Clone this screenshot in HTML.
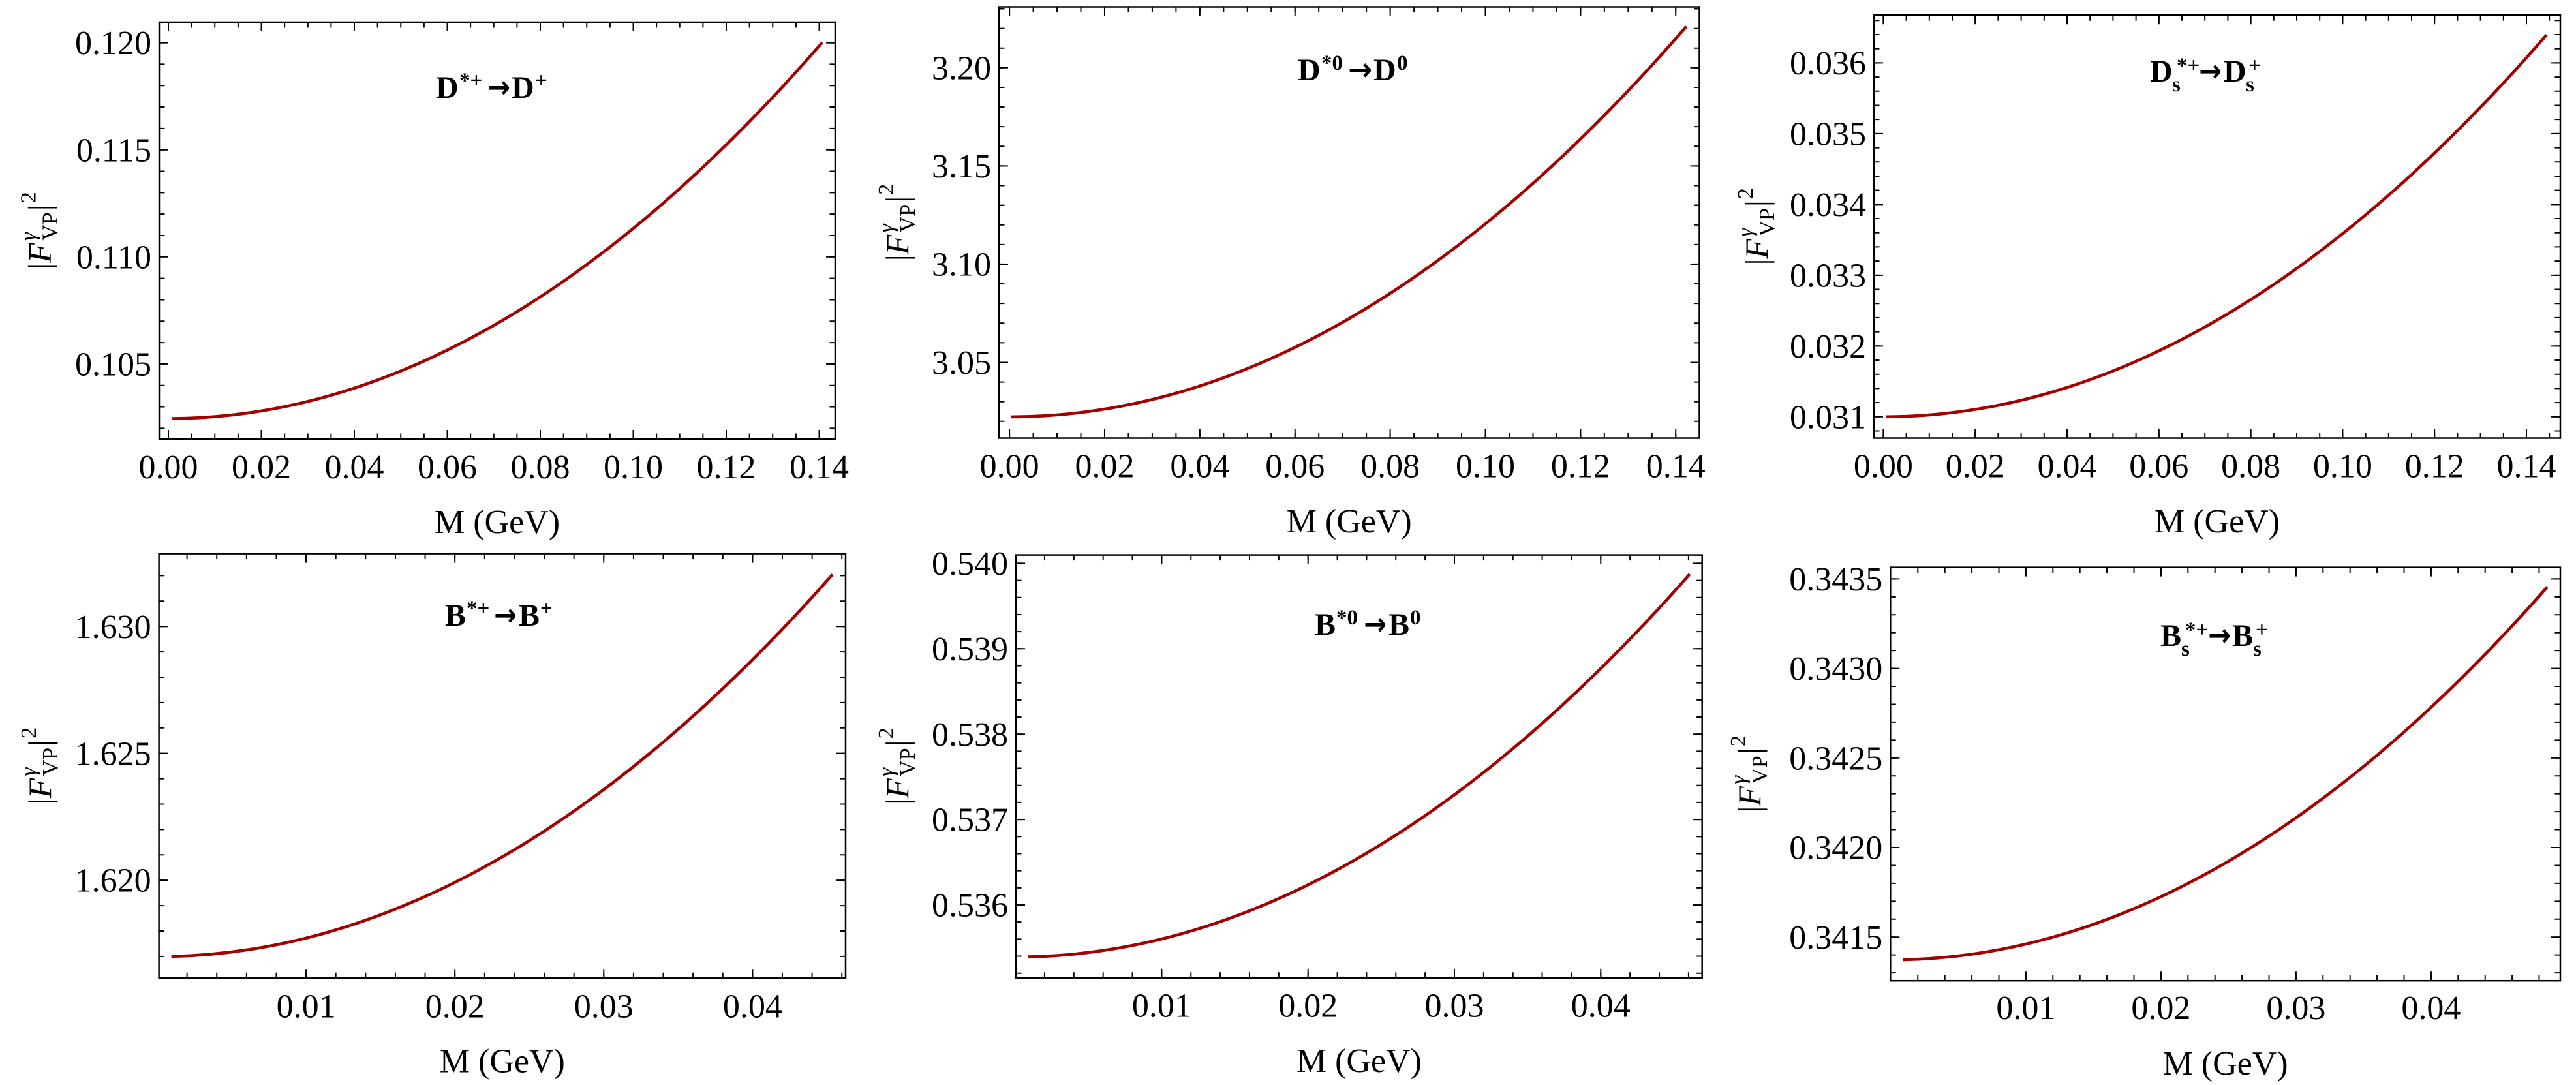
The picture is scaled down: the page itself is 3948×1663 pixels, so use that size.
<!DOCTYPE html>
<html>
<head>
<meta charset="utf-8">
<style>
html,body{margin:0;padding:0;background:#fff;}
svg{display:block;}
</style>
</head>
<body>
<svg width="3948" height="1663" viewBox="0 0 3948 1663" xmlns="http://www.w3.org/2000/svg" font-family="'Liberation Serif','DejaVu Serif',serif">
<rect x="0" y="0" width="3948" height="1663" fill="#fff"/>

<!-- ================= FRAMES ================= -->
<g fill="none" stroke="#000" stroke-width="2.5">
  <rect x="244" y="34" width="1036" height="639"/>
  <rect x="1531" y="10.5" width="1073.5" height="661"/>
  <rect x="2872" y="23.2" width="1052" height="648.3"/>
  <rect x="243.6" y="848.6" width="1052.4" height="650.7"/>
  <rect x="1557" y="850.6" width="1051.7" height="648.1"/>
  <rect x="2897.3" y="869.6" width="1026.7" height="633.6"/>
</g>

<!-- ================= TICKS ================= -->
<g fill="none" stroke="#000">
  <!-- Panel A -->
  <line x1="257" y1="668.75" x2="1256.5" y2="668.75" stroke-width="8.5" stroke-dasharray="2 33.625"/>
  <line x1="257" y1="666" x2="1256.5" y2="666" stroke-width="14" stroke-dasharray="2 140.5"/>
  <line x1="257" y1="38.25" x2="1256.5" y2="38.25" stroke-width="8.5" stroke-dasharray="2 33.625"/>
  <line x1="257" y1="41" x2="1256.5" y2="41" stroke-width="14" stroke-dasharray="2 140.5"/>
  <line x1="248.25" y1="64.6" x2="248.25" y2="657.4" stroke-width="8.5" stroke-dasharray="2 30.82"/>
  <line x1="251" y1="64.6" x2="251" y2="559" stroke-width="14" stroke-dasharray="2 162.1"/>
  <line x1="1275.75" y1="64.6" x2="1275.75" y2="657.4" stroke-width="8.5" stroke-dasharray="2 30.82"/>
  <line x1="1273" y1="64.6" x2="1273" y2="559" stroke-width="14" stroke-dasharray="2 162.1"/>

  <!-- Panel B -->
  <line x1="1546.1" y1="667.25" x2="2569.3" y2="667.25" stroke-width="8.5" stroke-dasharray="2 34.47"/>
  <line x1="1546.1" y1="664.5" x2="2569.3" y2="664.5" stroke-width="14" stroke-dasharray="2 143.88"/>
  <line x1="1546.1" y1="14.75" x2="2569.3" y2="14.75" stroke-width="8.5" stroke-dasharray="2 34.47"/>
  <line x1="1546.1" y1="17.5" x2="2569.3" y2="17.5" stroke-width="14" stroke-dasharray="2 143.88"/>
  <line x1="1535.25" y1="12.5" x2="1535.25" y2="646.8" stroke-width="8.5" stroke-dasharray="2 28.11"/>
  <line x1="1538" y1="102.8" x2="1538" y2="556.5" stroke-width="14" stroke-dasharray="2 148.57"/>
  <line x1="2600.25" y1="12.5" x2="2600.25" y2="646.8" stroke-width="8.5" stroke-dasharray="2 28.11"/>
  <line x1="2597.5" y1="102.8" x2="2597.5" y2="556.5" stroke-width="14" stroke-dasharray="2 148.57"/>

  <!-- Panel C -->
  <line x1="2885.4" y1="667.25" x2="3908.2" y2="667.25" stroke-width="8.5" stroke-dasharray="2 33.2"/>
  <line x1="2885.4" y1="664.5" x2="3873" y2="664.5" stroke-width="14" stroke-dasharray="2 138.8"/>
  <line x1="2885.4" y1="27.45" x2="3908.2" y2="27.45" stroke-width="8.5" stroke-dasharray="2 33.2"/>
  <line x1="2885.4" y1="30.2" x2="3873" y2="30.2" stroke-width="14" stroke-dasharray="2 138.8"/>
  <line x1="2876.25" y1="30.3" x2="2876.25" y2="661.5" stroke-width="8.5" stroke-dasharray="2 19.696"/>
  <line x1="2879" y1="95.4" x2="2879" y2="639.8" stroke-width="14" stroke-dasharray="2 106.48"/>
  <line x1="3919.75" y1="30.3" x2="3919.75" y2="661.5" stroke-width="8.5" stroke-dasharray="2 19.696"/>
  <line x1="3917" y1="95.4" x2="3917" y2="639.8" stroke-width="14" stroke-dasharray="2 106.48"/>

  <!-- Panel D -->
  <line x1="285.6" y1="1495.05" x2="1291.4" y2="1495.05" stroke-width="8.5" stroke-dasharray="2 43.62"/>
  <line x1="468.1" y1="1492.3" x2="1154.4" y2="1492.3" stroke-width="14" stroke-dasharray="2 226.1"/>
  <line x1="285.6" y1="852.85" x2="1291.4" y2="852.85" stroke-width="8.5" stroke-dasharray="2 43.62"/>
  <line x1="468.1" y1="855.6" x2="1154.4" y2="855.6" stroke-width="14" stroke-dasharray="2 226.1"/>
  <line x1="247.85" y1="881.4" x2="247.85" y2="1466.9" stroke-width="8.5" stroke-dasharray="2 36.9"/>
  <line x1="250.6" y1="959.2" x2="250.6" y2="1350.1" stroke-width="14" stroke-dasharray="2 192.45"/>
  <line x1="1291.75" y1="881.4" x2="1291.75" y2="1466.9" stroke-width="8.5" stroke-dasharray="2 36.9"/>
  <line x1="1289" y1="959.2" x2="1289" y2="1350.1" stroke-width="14" stroke-dasharray="2 192.45"/>

  <!-- Panel E -->
  <line x1="1599.96" y1="1494.45" x2="2588.9" y2="1494.45" stroke-width="8.5" stroke-dasharray="2 42.86"/>
  <line x1="1779.4" y1="1491.7" x2="2454.3" y2="1491.7" stroke-width="14" stroke-dasharray="2 222.3"/>
  <line x1="1599.96" y1="854.85" x2="2588.9" y2="854.85" stroke-width="8.5" stroke-dasharray="2 42.86"/>
  <line x1="1779.4" y1="857.6" x2="2454.3" y2="857.6" stroke-width="14" stroke-dasharray="2 222.3"/>
  <line x1="1561.25" y1="862.4" x2="1561.25" y2="1492.7" stroke-width="8.5" stroke-dasharray="2 24.18"/>
  <line x1="1564" y1="862.4" x2="1564" y2="1388" stroke-width="14" stroke-dasharray="2 128.9"/>
  <line x1="2604.45" y1="862.4" x2="2604.45" y2="1492.7" stroke-width="8.5" stroke-dasharray="2 24.18"/>
  <line x1="2601.7" y1="862.4" x2="2601.7" y2="1388" stroke-width="14" stroke-dasharray="2 128.9"/>

  <!-- Panel F -->
  <line x1="2938.3" y1="1498.95" x2="3892.5" y2="1498.95" stroke-width="8.5" stroke-dasharray="2 39.4"/>
  <line x1="3103.9" y1="1496.2" x2="3726.9" y2="1496.2" stroke-width="14" stroke-dasharray="2 205"/>
  <line x1="2938.3" y1="873.85" x2="3892.5" y2="873.85" stroke-width="8.5" stroke-dasharray="2 39.4"/>
  <line x1="3103.9" y1="876.6" x2="3726.9" y2="876.6" stroke-width="14" stroke-dasharray="2 205"/>
  <line x1="2901.55" y1="886.4" x2="2901.55" y2="1492.1" stroke-width="8.5" stroke-dasharray="2 25.44"/>
  <line x1="2904.3" y1="886.4" x2="2904.3" y2="1437.2" stroke-width="14" stroke-dasharray="2 135.2"/>
  <line x1="3919.75" y1="886.4" x2="3919.75" y2="1492.1" stroke-width="8.5" stroke-dasharray="2 25.44"/>
  <line x1="3917" y1="886.4" x2="3917" y2="1437.2" stroke-width="14" stroke-dasharray="2 135.2"/>
</g>

<!-- ================= CURVES ================= -->
<g fill="none" stroke="#a50000" stroke-width="4.6">
  <path d="M263.4,641.5 Q761.8,638.4 1260.2,65.1"/>
  <path d="M1549.7,638.9 Q2067.2,637.4 2584.6,40.5"/>
  <path d="M2890.7,638.8 Q3396.9,636.3 3903,53.4"/>
  <path d="M262.6,1466 Q769.3,1454 1276,880.5"/>
  <path d="M1575.9,1466.6 Q2082.8,1455.6 2589.7,880"/>
  <path d="M2916,1471 Q3410,1460.9 3904,899.7"/>
</g>

<!-- ================= TICK LABELS ================= -->
<g font-size="52" fill="#000">
  <!-- A -->
  <g text-anchor="end">
    <text x="232" y="83.2">0.120</text>
    <text x="232" y="247.3">0.115</text>
    <text x="232" y="411.4">0.110</text>
    <text x="232" y="575.5">0.105</text>
  </g>
  <g text-anchor="middle">
    <text x="258" y="733">0.00</text>
    <text x="400.5" y="733">0.02</text>
    <text x="543" y="733">0.04</text>
    <text x="685.5" y="733">0.06</text>
    <text x="828" y="733">0.08</text>
    <text x="970.5" y="733">0.10</text>
    <text x="1113" y="733">0.12</text>
    <text x="1255.5" y="733">0.14</text>
    <text x="762" y="817">M (GeV)</text>
  </g>

  <!-- B -->
  <g text-anchor="end">
    <text x="1519" y="121.4">3.20</text>
    <text x="1519" y="272">3.15</text>
    <text x="1519" y="422.5">3.10</text>
    <text x="1519" y="573.1">3.05</text>
  </g>
  <g text-anchor="middle">
    <text x="1547.1" y="731.5">0.00</text>
    <text x="1693" y="731.5">0.02</text>
    <text x="1838.9" y="731.5">0.04</text>
    <text x="1984.7" y="731.5">0.06</text>
    <text x="2130.6" y="731.5">0.08</text>
    <text x="2276.5" y="731.5">0.10</text>
    <text x="2422.4" y="731.5">0.12</text>
    <text x="2568.3" y="731.5">0.14</text>
    <text x="2067.7" y="816">M (GeV)</text>
  </g>

  <!-- C -->
  <g text-anchor="end">
    <text x="2860" y="114">0.036</text>
    <text x="2860" y="222.5">0.035</text>
    <text x="2860" y="331">0.034</text>
    <text x="2860" y="439.4">0.033</text>
    <text x="2860" y="547.9">0.032</text>
    <text x="2860" y="656.4">0.031</text>
  </g>
  <g text-anchor="middle">
    <text x="2886.4" y="731.5">0.00</text>
    <text x="3027.2" y="731.5">0.02</text>
    <text x="3168" y="731.5">0.04</text>
    <text x="3308.8" y="731.5">0.06</text>
    <text x="3449.6" y="731.5">0.08</text>
    <text x="3590.4" y="731.5">0.10</text>
    <text x="3731.2" y="731.5">0.12</text>
    <text x="3872" y="731.5">0.14</text>
    <text x="3398" y="816">M (GeV)</text>
  </g>

  <!-- D -->
  <g text-anchor="end">
    <text x="231.6" y="977.8">1.630</text>
    <text x="231.6" y="1172.3">1.625</text>
    <text x="231.6" y="1366.7">1.620</text>
  </g>
  <g text-anchor="middle">
    <text x="469.1" y="1559.3">0.01</text>
    <text x="697.2" y="1559.3">0.02</text>
    <text x="925.3" y="1559.3">0.03</text>
    <text x="1153.4" y="1559.3">0.04</text>
    <text x="769.8" y="1643.5">M (GeV)</text>
  </g>

  <!-- E -->
  <g text-anchor="end">
    <text x="1545" y="881">0.540</text>
    <text x="1545" y="1011.9">0.539</text>
    <text x="1545" y="1142.8">0.538</text>
    <text x="1545" y="1273.7">0.537</text>
    <text x="1545" y="1404.6">0.536</text>
  </g>
  <g text-anchor="middle">
    <text x="1780.4" y="1558.7">0.01</text>
    <text x="2004.7" y="1558.7">0.02</text>
    <text x="2229" y="1558.7">0.03</text>
    <text x="2453.3" y="1558.7">0.04</text>
    <text x="2082.9" y="1643">M (GeV)</text>
  </g>

  <!-- F -->
  <g text-anchor="end">
    <text x="2885.3" y="905">0.3435</text>
    <text x="2885.3" y="1042.2">0.3430</text>
    <text x="2885.3" y="1179.4">0.3425</text>
    <text x="2885.3" y="1316.6">0.3420</text>
    <text x="2885.3" y="1453.8">0.3415</text>
  </g>
  <g text-anchor="middle">
    <text x="3104.9" y="1562">0.01</text>
    <text x="3311.9" y="1562">0.02</text>
    <text x="3518.9" y="1562">0.03</text>
    <text x="3725.9" y="1562">0.04</text>
    <text x="3410.6" y="1647">M (GeV)</text>
  </g>
</g>

<!-- ================= Y AXIS LABELS ================= -->
<g font-size="50" fill="#000" text-anchor="middle">
  <text transform="translate(59.5,353.5) rotate(-90)" x="0" y="18"><tspan>|</tspan><tspan font-style="italic">F</tspan><tspan font-size="34" font-style="italic" dx="3" dy="-23">γ</tspan><tspan font-size="34" dx="-13" dy="33">VP</tspan><tspan dx="2" dy="-10">|</tspan><tspan font-size="34" dx="2" dy="-23">2</tspan></text>
  <text transform="translate(1374,341) rotate(-90)" x="0" y="18"><tspan>|</tspan><tspan font-style="italic">F</tspan><tspan font-size="34" font-style="italic" dx="3" dy="-23">γ</tspan><tspan font-size="34" dx="-13" dy="33">VP</tspan><tspan dx="2" dy="-10">|</tspan><tspan font-size="34" dx="2" dy="-23">2</tspan></text>
  <text transform="translate(2691,347.3) rotate(-90)" x="0" y="18"><tspan>|</tspan><tspan font-style="italic">F</tspan><tspan font-size="34" font-style="italic" dx="3" dy="-23">γ</tspan><tspan font-size="34" dx="-13" dy="33">VP</tspan><tspan dx="2" dy="-10">|</tspan><tspan font-size="34" dx="2" dy="-23">2</tspan></text>
  <text transform="translate(60,1174) rotate(-90)" x="0" y="18"><tspan>|</tspan><tspan font-style="italic">F</tspan><tspan font-size="34" font-style="italic" dx="3" dy="-23">γ</tspan><tspan font-size="34" dx="-13" dy="33">VP</tspan><tspan dx="2" dy="-10">|</tspan><tspan font-size="34" dx="2" dy="-23">2</tspan></text>
  <text transform="translate(1374,1174.6) rotate(-90)" x="0" y="18"><tspan>|</tspan><tspan font-style="italic">F</tspan><tspan font-size="34" font-style="italic" dx="3" dy="-23">γ</tspan><tspan font-size="34" dx="-13" dy="33">VP</tspan><tspan dx="2" dy="-10">|</tspan><tspan font-size="34" dx="2" dy="-23">2</tspan></text>
  <text transform="translate(2680,1186.4) rotate(-90)" x="0" y="18"><tspan>|</tspan><tspan font-style="italic">F</tspan><tspan font-size="34" font-style="italic" dx="3" dy="-23">γ</tspan><tspan font-size="34" dx="-13" dy="33">VP</tspan><tspan dx="2" dy="-10">|</tspan><tspan font-size="34" dx="2" dy="-23">2</tspan></text>
</g>

<!-- ================= ANNOTATIONS ================= -->
<g font-size="48" font-weight="bold" fill="#000">
  <!-- A: D*+ -> D+ -->
  <text x="668" y="150">D</text>
  <text x="704" y="134" font-size="33">*+</text>
  <text x="747" y="150" font-family="'DejaVu Sans',sans-serif" textLength="35" lengthAdjust="spacingAndGlyphs">→</text>
  <text x="784" y="150">D</text>
  <text x="820" y="134" font-size="33">+</text>

  <!-- B: D*0 -> D0 -->
  <text x="1989" y="123">D</text>
  <text x="2025" y="107" font-size="33">*0</text>
  <text x="2066" y="123" font-family="'DejaVu Sans',sans-serif" textLength="37" lengthAdjust="spacingAndGlyphs">→</text>
  <text x="2105" y="123">D</text>
  <text x="2141" y="107" font-size="33">0</text>

  <!-- C: Ds*+ -> Ds+ -->
  <text x="3295" y="125">D</text>
  <text x="3329" y="140" font-size="33">s</text>
  <text x="3336" y="111" font-size="33">*+</text>
  <text x="3370" y="125" font-family="'DejaVu Sans',sans-serif" textLength="35" lengthAdjust="spacingAndGlyphs">→</text>
  <text x="3408" y="125">D</text>
  <text x="3442" y="140" font-size="33">s</text>
  <text x="3446" y="111" font-size="33">+</text>

  <!-- D: B*+ -> B+ -->
  <text x="682" y="959">B</text>
  <text x="715" y="943" font-size="33">*+</text>
  <text x="757" y="959" font-family="'DejaVu Sans',sans-serif" textLength="35" lengthAdjust="spacingAndGlyphs">→</text>
  <text x="795" y="959">B</text>
  <text x="828" y="943" font-size="33">+</text>

  <!-- E: B*0 -> B0 -->
  <text x="2015" y="973">B</text>
  <text x="2048" y="957" font-size="33">*0</text>
  <text x="2090" y="973" font-family="'DejaVu Sans',sans-serif" textLength="35" lengthAdjust="spacingAndGlyphs">→</text>
  <text x="2128" y="973">B</text>
  <text x="2161" y="957" font-size="33">0</text>

  <!-- F: Bs*+ -> Bs+ -->
  <text x="3311" y="990">B</text>
  <text x="3343" y="1005" font-size="33">s</text>
  <text x="3349" y="976" font-size="33">*+</text>
  <text x="3384" y="990" font-family="'DejaVu Sans',sans-serif" textLength="35" lengthAdjust="spacingAndGlyphs">→</text>
  <text x="3421" y="990">B</text>
  <text x="3453" y="1005" font-size="33">s</text>
  <text x="3457" y="976" font-size="33">+</text>
</g>
</svg>
</body>
</html>
